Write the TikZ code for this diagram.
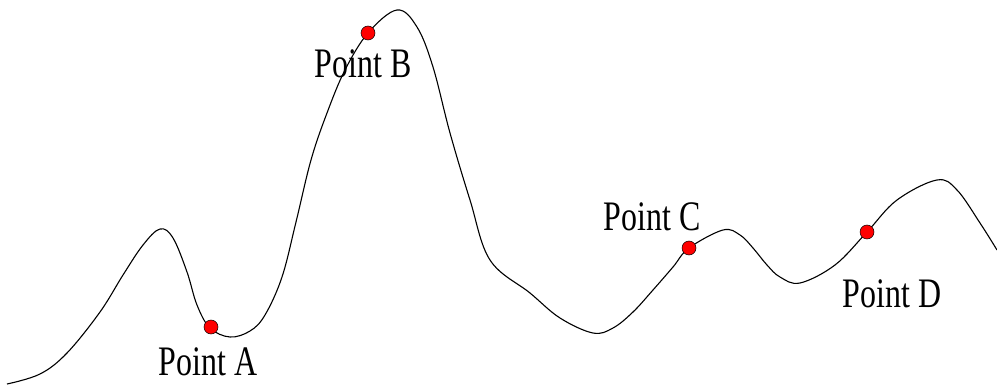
\documentclass[tikz,border=0pt]{standalone}
\usepackage{fontspec}
\setmainfont{Liberation Serif}
\tikzset{
  px/.style={x=1pt,y=-1pt},
  curveline/.style={line width=1.1pt, black},
  reddot/.style={circle, draw=black, line width=0.5pt, fill=red, inner sep=0pt, minimum width=13pt, minimum height=14pt},
  ptlabel/.style={anchor=base, inner sep=0pt, font=\fontsize{42}{42}\selectfont}
}
\newcommand{\narrow}[1]{\scalebox{0.76}[1]{#1}}
\begin{document}
\begin{tikzpicture}[px]
\useasboundingbox (0,0) rectangle (997,385);
\draw[curveline] plot[smooth, tension=0.6] coordinates {
 (7,384) (40,374) (67,353) (100,312) (123,275) (143,245) (160,229) (173,238)
 (187,272) (197,305) (210,328) (230,337) (250,331) (265,315) (282,277) (296,222)
 (311,160) (327,113) (345,70) (368,33) (397,10) (417,27) (433,67)
 (450,133) (470,200) (490,260) (530,293) (560,318) (593,333) (613,328)
 (633,312) (653,290) (673,267) (689,248) (723,230) (740,235) (753,248)
 (767,265) (780,277) (800,283) (835,265) (867,232) (897,200) (937,180)
 (957,190) (980,223) (997,250)};
\node[reddot] (A) at (211,327) {};
\node[reddot] (B) at (368,33) {};
\node[reddot] (C) at (689,248) {};
\node[reddot] (D) at (867,232) {};
\node[ptlabel] (LA) at (208,375) {\narrow{Point A}};
\node[ptlabel] (LB) at (363,78) {\narrow{Point B}};
\node[ptlabel] (LC) at (652,230) {\narrow{Point C}};
\node[ptlabel] (LD) at (892,307) {\narrow{Point D}};
\end{tikzpicture}
\end{document}
